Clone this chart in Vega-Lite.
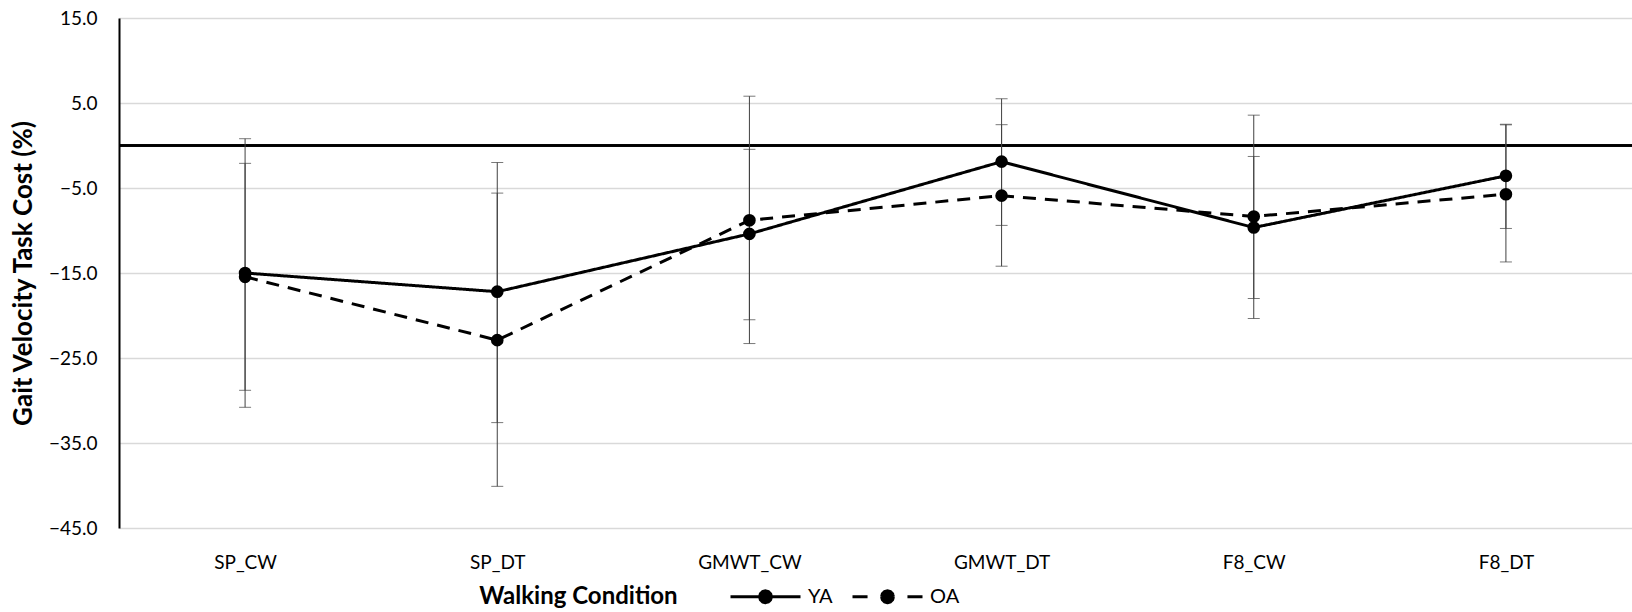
{
  "$schema": "https://vega.github.io/schema/vega-lite/v6.json",
  "autosize": "none",
  "width": 1513,
  "height": 510,
  "padding": {"left": 119, "top": 18, "right": 0, "bottom": 84},
  "background": "white",
  "config": {
    "view": {"stroke": null},
    "font": "Lato",
    "axis": {"labelFont": "Lato", "titleFont": "Lato", "labelColor": "#000000", "titleColor": "#000000"},
    "legend": {"labelFont": "Lato"}
  },
  "data": {
    "values": [
      {"condition": "SP_CW", "group": "YA", "value": -15.0, "lo": -30.8, "hi": 0.8},
      {"condition": "SP_DT", "group": "YA", "value": -17.2, "lo": -32.6, "hi": -2.0},
      {"condition": "GMWT_CW", "group": "YA", "value": -10.4, "lo": -20.5, "hi": -0.45},
      {"condition": "GMWT_DT", "group": "YA", "value": -1.9, "lo": -9.4, "hi": 5.5},
      {"condition": "F8_CW", "group": "YA", "value": -9.65, "lo": -18.0, "hi": -1.29},
      {"condition": "F8_DT", "group": "YA", "value": -3.57, "lo": -9.76, "hi": 2.5},
      {"condition": "SP_CW", "group": "OA", "value": -15.45, "lo": -28.8, "hi": -2.1},
      {"condition": "SP_DT", "group": "OA", "value": -22.9, "lo": -40.1, "hi": -5.6},
      {"condition": "GMWT_CW", "group": "OA", "value": -8.8, "lo": -23.3, "hi": 5.8},
      {"condition": "GMWT_DT", "group": "OA", "value": -5.9, "lo": -14.2, "hi": 2.45},
      {"condition": "F8_CW", "group": "OA", "value": -8.35, "lo": -20.35, "hi": 3.57},
      {"condition": "F8_DT", "group": "OA", "value": -5.73, "lo": -13.7, "hi": 2.43}
    ]
  },
  "encoding": {
    "x": {
      "field": "condition",
      "type": "nominal",
      "sort": ["SP_CW", "SP_DT", "GMWT_CW", "GMWT_DT", "F8_CW", "F8_DT"],
      "scale": {"type": "point", "padding": 0.5},
      "axis": {
        "title": "Walking Condition",
        "titleFontSize": 24,
        "titleFontWeight": "bold",
        "titleX": 459,
        "titleY": 68,
        "titleAlign": "center",
        "titleBaseline": "middle",
        "labelAngle": 0,
        "labelFontSize": 19,
        "labelPadding": 25,
        "ticks": false,
        "tickSize": 0,
        "domain": false,
        "grid": false
      }
    }
  },
  "layer": [
    {
      "mark": {"type": "rule", "color": "#000000", "strokeWidth": 1.5},
      "encoding": {"y": {"datum": 0, "type": "quantitative"}, "x": null}
    },
    {
      "mark": {"type": "rule", "color": "#404040", "strokeWidth": 1},
      "encoding": {
        "y": {
          "field": "lo",
          "type": "quantitative",
          "scale": {"domain": [-45, 15], "nice": false, "zero": false},
          "axis": {
            "title": "Gait Velocity Task Cost (%)",
            "titleFontSize": 26,
            "titleFontWeight": "bold",
            "titleX": -96,
            "titleY": 255,
            "titleAngle": -90,
            "titleAlign": "center",
            "titleBaseline": "middle",
            "values": [-45, -35, -25, -15, -5, 5, 15],
            "format": ".1f",
            "labelFontSize": 19,
            "labelPadding": 22,
            "ticks": false,
            "tickSize": 0,
            "domain": true,
            "domainColor": "#000000",
            "domainWidth": 2,
            "grid": true,
            "gridColor": "#d9d9d9",
            "gridWidth": 1.5
          }
        },
        "y2": {"field": "hi"}
      }
    },
    {
      "mark": {"type": "tick", "color": "#404040", "thickness": 1, "size": 12},
      "encoding": {"y": {"field": "lo", "type": "quantitative"}}
    },
    {
      "mark": {"type": "tick", "color": "#404040", "thickness": 1, "size": 12},
      "encoding": {"y": {"field": "hi", "type": "quantitative"}}
    },
    {
      "mark": {"type": "line", "color": "#000000", "strokeWidth": 3},
      "encoding": {
        "y": {"field": "value", "type": "quantitative"},
        "strokeDash": {
          "field": "group",
          "type": "nominal",
          "scale": {"domain": ["YA", "OA"], "range": [[1, 0], [13, 9]]},
          "legend": {
            "title": null,
            "orient": "none",
            "direction": "horizontal",
            "legendX": 610,
            "legendY": 542,
            "padding": 0,
            "symbolType": "M-1,0H1",
            "symbolSize": 4900,
            "symbolStrokeWidth": 3,
            "symbolStrokeColor": "#000000",
            "symbolFillColor": "#000000",
            "labelFontSize": 20,
            "labelOffset": 6,
            "columnPadding": 13,
            "labelColor": "#000000",
            "encode": {
              "symbols": {
                "update": {
                  "fill": {"value": "#000000"},
                  "stroke": {"value": "#000000"},
                  "shape": {"signal": "(datum.value === 'OA' ? 'M-1,0H-0.8M-0.8,0H-0.57M0.57,0H0.8M0.8,0H1' : 'M-1,0H1') + 'M0.17,0L0.147,0.085L0.085,0.147L0,0.17L-0.085,0.147L-0.147,0.085L-0.17,0L-0.147,-0.085L-0.085,-0.147L0,-0.17L0.085,-0.147L0.147,-0.085ZM0.17,0L0.147,0.085L0.085,0.147L0,0.17M0,0.17L-0.085,0.147L-0.147,0.085L-0.17,0M-0.17,0L-0.147,-0.085L-0.085,-0.147L0,-0.17M0,-0.17L0.085,-0.147L0.147,-0.085L0.17,0'"}
                }
              }
            }
          }
        }
      }
    },
    {
      "mark": {"type": "point", "filled": true, "color": "#000000", "size": 160, "opacity": 1},
      "encoding": {"y": {"field": "value", "type": "quantitative"}}
    }
  ]
}
